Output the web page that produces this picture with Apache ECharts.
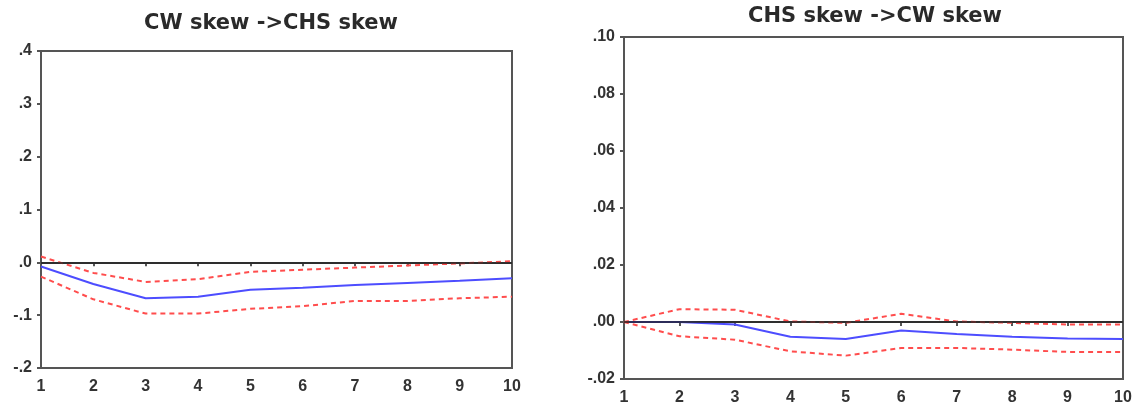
<!DOCTYPE html>
<html>
<head>
<meta charset="utf-8">
<style type="text/css">
html, body { margin: 0; padding: 0; background: #fff; }
#chart { width: 1143px; height: 412px; }
</style>
<script type="text/javascript" src="https://cdn.jsdelivr.net/npm/echarts@6/dist/echarts.min.js"></script>
</head>
<body>
<div id="chart"></div>
<script type="text/javascript">
// periods 1..10
var periods = [1, 2, 3, 4, 5, 6, 7, 8, 9, 10];

// CW skew -> CHS skew
var cwResp  = [-0.008, -0.041, -0.068, -0.065, -0.052, -0.048, -0.043, -0.039, -0.035, -0.030];
var cwUpper = [0.011, -0.020, -0.037, -0.032, -0.018, -0.014, -0.010, -0.006, -0.002, 0.002];
var cwLower = [-0.027, -0.070, -0.097, -0.097, -0.088, -0.083, -0.073, -0.073, -0.068, -0.065];

// CHS skew -> CW skew
var chsResp  = [0.0, 0.0, -0.0009, -0.0052, -0.0060, -0.0030, -0.0042, -0.0052, -0.0058, -0.0060];
var chsUpper = [0.0, 0.0045, 0.0043, 0.0002, -0.0003, 0.0029, 0.0002, -0.0003, -0.0009, -0.0009];
var chsLower = [0.0, -0.0050, -0.0062, -0.0103, -0.0118, -0.0091, -0.0091, -0.0097, -0.0105, -0.0105];

var titles = ['CW skew ->CHS skew', 'CHS skew ->CW skew'];

function pts(arr) {
	return periods.map(function (p, i) { return [p, arr[i]]; });
}

// eviews style: drop the leading zero
function fmt(dec) {
	return function (v) {
		var s = Math.abs(v).toFixed(dec).replace(/^0/, '');
		return (v < -1e-9 ? '-' : '') + s;
	};
}

var lbl = { color: '#333', fontSize: 16, fontWeight: 'bold', fontFamily: 'Liberation Sans, Arial, sans-serif' };
var frame = { show: true, lineStyle: { color: '#555', width: 2 } };
var tick = { show: true, length: 4, inside: false, lineStyle: { color: '#555', width: 2 } };
var ttl = { fontSize: 21, fontWeight: 'bold', color: '#2a2a2a', fontFamily: 'DejaVu Sans, sans-serif' };

function xAx(idx, m) {
	return {
		type: 'value', gridIndex: idx, min: 1, max: 10, interval: 1,
		axisLine: frame, axisTick: tick,
		axisLabel: Object.assign({ margin: m }, lbl),
		splitLine: { show: false }
	};
}
function yAx(idx, min, max, step, dec) {
	return {
		type: 'value', gridIndex: idx, min: min, max: max, interval: step,
		axisLine: frame, axisTick: tick,
		axisLabel: Object.assign({ margin: 9, formatter: fmt(dec) }, lbl),
		splitLine: { show: false }
	};
}

function band(idx, arr) {
	return {
		type: 'line', xAxisIndex: idx, yAxisIndex: idx, data: pts(arr),
		symbol: 'none', silent: true,
		lineStyle: { color: '#ff4d4d', width: 2, type: [5, 4] },
		z: 3
	};
}
function resp(idx, arr) {
	return {
		type: 'line', xAxisIndex: idx, yAxisIndex: idx, data: pts(arr),
		symbol: 'none', silent: true,
		lineStyle: { color: '#4d4dff', width: 2 },
		markLine: {
			silent: true, symbol: 'none', label: { show: false },
			lineStyle: { color: '#222', width: 1.5, type: 'solid' },
			data: [{ yAxis: 0 }]
		},
		z: 2
	};
}

var chart = echarts.init(document.getElementById('chart'));
chart.setOption({
	animation: false,
	title: [
		{ text: titles[0], left: 266, top: 8, textAlign: 'center', textStyle: ttl },
		{ text: titles[1], left: 870, top: 1, textAlign: 'center', textStyle: ttl }
	],
	grid: [
		{ left: 41, right: 631, top: 51, bottom: 44, show: true, borderColor: '#555', borderWidth: 2 },
		{ left: 624, right: 20, top: 37, bottom: 33, show: true, borderColor: '#555', borderWidth: 2 }
	],
	xAxis: [xAx(0, 11), xAx(1, 11)],
	yAxis: [yAx(0, -0.2, 0.4, 0.1, 1), yAx(1, -0.02, 0.10, 0.02, 2)],
	series: [
		resp(0, cwResp), band(0, cwUpper), band(0, cwLower),
		resp(1, chsResp), band(1, chsUpper), band(1, chsLower)
	]
});
</script>
</body>
</html>
